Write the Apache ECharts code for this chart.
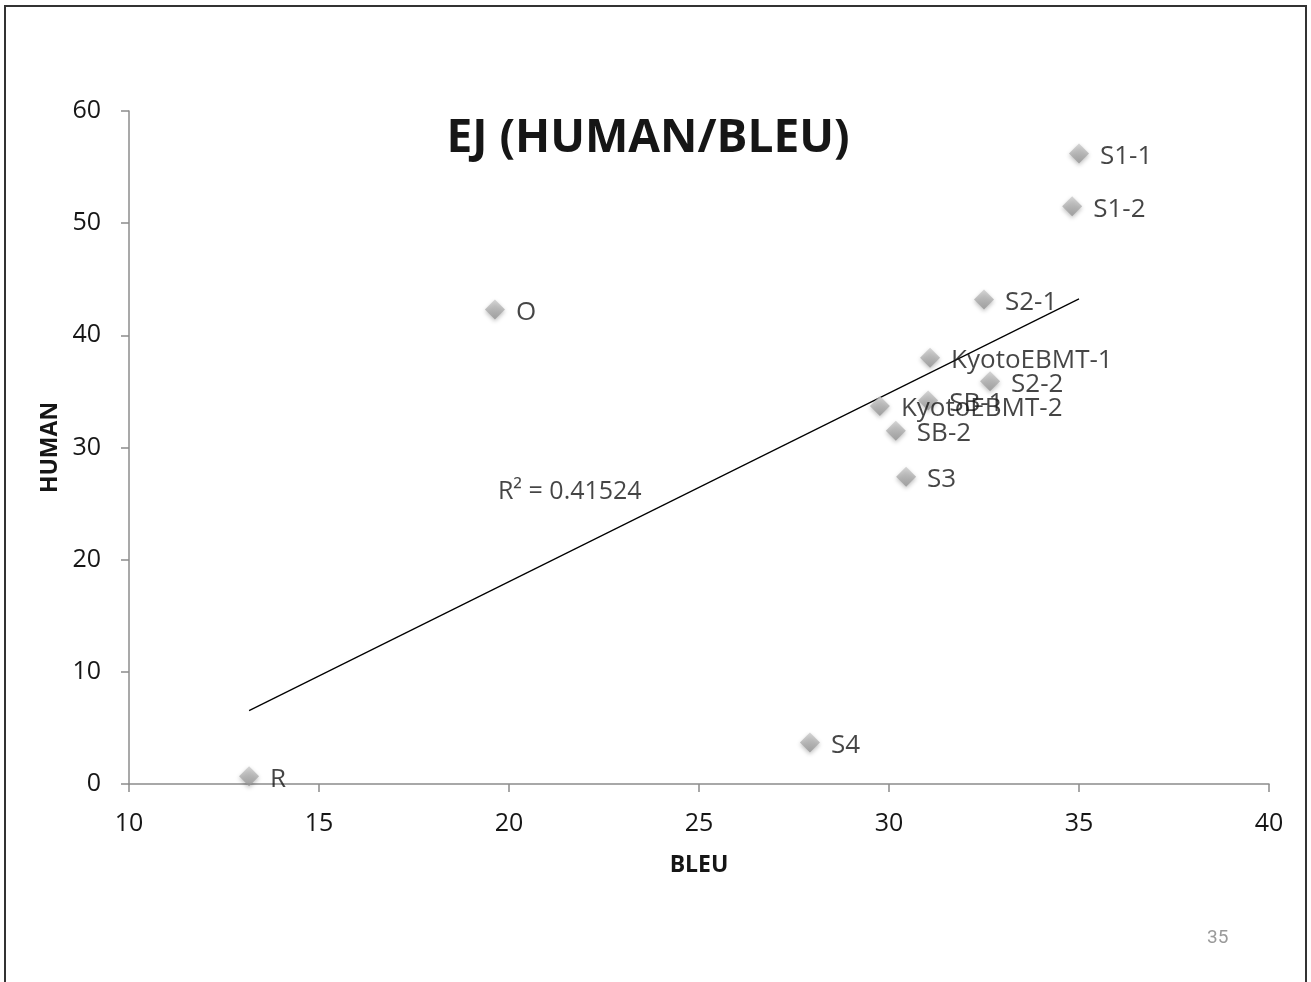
<!DOCTYPE html>
<html>
<head>
<meta charset="utf-8">
<script src="https://cdn.jsdelivr.net/npm/echarts@6/dist/echarts.min.js"></script>
<style>
  html, body { margin: 0; padding: 0; background: #fff; }
  #chart { width: 1311px; height: 982px; }
</style>
</head>
<body>
<div id="chart"></div>
<script>
// System names and their scores
const systems = ['S1-1', 'S1-2', 'S2-1', 'O', 'KyotoEBMT-1', 'S2-2', 'SB-1', 'KyotoEBMT-2', 'SB-2', 'S3', 'S4', 'R'];
const bleu    = [35.0, 34.82, 32.5, 19.63, 31.08, 32.66, 31.03, 29.76, 30.18, 30.45, 27.92, 13.16];
const human   = [56.2, 51.5, 43.2, 42.3, 38.0, 35.9, 34.2, 33.7, 31.5, 27.4, 3.7, 0.7];
const xTicks = [10, 15, 20, 25, 30, 35, 40];
const yTicks = [0, 10, 20, 30, 40, 50, 60];
const rSquaredText = 'R² = 0.41524';

// Least-squares linear trend over the points
const n = bleu.length;
const mx = bleu.reduce((a, b) => a + b, 0) / n;
const my = human.reduce((a, b) => a + b, 0) / n;
let sxy = 0, sxx = 0;
for (let i = 0; i < n; i++) { sxy += (bleu[i] - mx) * (human[i] - my); sxx += (bleu[i] - mx) ** 2; }
const slope = sxy / sxx;
const intercept = my - slope * mx;
const xMin = Math.min(...bleu), xMax = Math.max(...bleu);
const trend = [[xMin, intercept + slope * xMin], [xMax, intercept + slope * xMax]];

const font = '"Open Sans", "Noto Sans", sans-serif';
const points = systems.map((s, i) => ({ name: s, value: [bleu[i], human[i]] }));

const chart = echarts.init(document.getElementById('chart'), null, { renderer: 'canvas' });
chart.setOption({
  backgroundColor: '#ffffff',
  animation: false,
  title: {
    text: 'EJ (HUMAN/BLEU)',
    left: 643, top: 111, textAlign: 'center',
    textStyle: { fontFamily: font, fontSize: 46, fontWeight: 'bold', color: '#161616' }
  },
  grid: { left: 129, top: 111, right: 42, bottom: 198 },
  xAxis: {
    type: 'value', min: xTicks[0], max: xTicks[xTicks.length - 1], interval: 5,
    name: 'BLEU', nameLocation: 'middle', nameGap: 70,
    nameTextStyle: { fontFamily: font, fontSize: 23, fontWeight: 'bold', color: '#161616' },
    axisLine: { show: true, lineStyle: { color: '#8c8c8c', width: 1.5 } },
    axisTick: { show: true, length: 8, lineStyle: { color: '#8c8c8c', width: 1.5 } },
    axisLabel: { fontFamily: font, fontSize: 25, color: '#161616', margin: 27 },
    splitLine: { show: false }
  },
  yAxis: {
    type: 'value', min: yTicks[0], max: yTicks[yTicks.length - 1], interval: 10,
    name: 'HUMAN', nameLocation: 'middle', nameGap: 66, nameRotate: 90,
    nameTextStyle: { fontFamily: font, fontSize: 23, fontWeight: 'bold', color: '#161616' },
    axisLine: { show: true, lineStyle: { color: '#8c8c8c', width: 1.5 } },
    axisTick: { show: true, length: 8, lineStyle: { color: '#8c8c8c', width: 1.5 } },
    axisLabel: { fontFamily: font, fontSize: 25, color: '#161616', margin: 28 },
    splitLine: { show: false }
  },
  series: [
    {
      type: 'line',
      data: trend,
      symbol: 'none',
      lineStyle: { color: '#000', width: 1.2 },
      silent: true,
      z: 2
    },
    {
      type: 'scatter',
      data: points,
      symbol: 'diamond',
      symbolSize: [20, 20],
      itemStyle: {
        color: new echarts.graphic.LinearGradient(0, 0, 0, 1, [
          { offset: 0, color: '#cdcdcd' },
          { offset: 1, color: '#939393' }
        ]),
        shadowBlur: 4,
        shadowColor: 'rgba(0,0,0,0.3)',
        shadowOffsetY: 2
      },
      label: {
        show: true, position: 'right', distance: 11,
        formatter: p => p.name,
        fontFamily: font, fontSize: 26, color: '#161616',
        offset: [0, 3]
      },
      z: 3
    },
    {
      type: 'scatter',
      data: [[21.6, 26.0]],
      symbolSize: 0,
      label: {
        show: true, position: 'inside',
        formatter: rSquaredText,
        fontFamily: font, fontSize: 25, color: '#161616'
      },
      silent: true,
      z: 4
    }
  ],
  graphic: [
    {
      type: 'polyline',
      shape: { points: [[5, 982], [5, 6], [1306, 6], [1306, 982]] },
      style: { stroke: '#333', lineWidth: 2, fill: null }
    },
    {
      type: 'text', left: 1207, top: 929,
      style: { text: '35', font: '19px Roboto, sans-serif', fill: '#9a9a9a' }
    }
  ]
});
</script>
</body>
</html>
